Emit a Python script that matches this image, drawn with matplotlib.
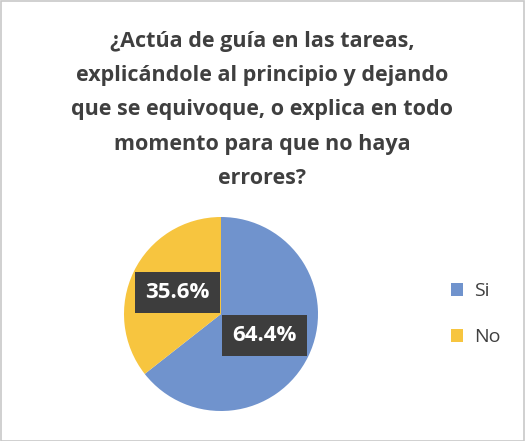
import matplotlib
matplotlib.use("Agg")
import matplotlib.pyplot as plt
from matplotlib.patches import Rectangle

title = "¿Actúa de guía en las tareas,\nexplicándole al principio y dejando\nque se equivoque, o explica en todo\nmomento para que no haya\nerrores?"
categories = ["Si", "No"]
values = [64.4, 35.6]
colors = ["#7093cd", "#f7c53f"]

W, H = 525, 441
fig = plt.figure(figsize=(W / 100, H / 100), dpi=100)
fig.patch.set_facecolor("white")
fig.add_artist(Rectangle((0.5 / W, 0.5 / H), 1 - 1.5 / W, 1 - 1.5 / H, transform=fig.transFigure,
                         fill=False, edgecolor="#c8c8c8", linewidth=1.2))

fig.text(262 / W, 1 - 110 / H, title, ha="center", va="center", fontsize=15.5,
         fontweight="bold", color="#3f3f3f", family="Open Sans", linespacing=1.84)

cx, cy, r = 221, 314, 97
ax = fig.add_axes([(cx - r) / W, (H - cy - r) / H, 2 * r / W, 2 * r / H])
wedges, texts, autotexts = ax.pie(values, colors=colors, startangle=90, counterclock=False,
                                  autopct="%.1f%%", pctdistance=0.5,
                                  wedgeprops=dict(linewidth=0))
for t in autotexts:
    t.set_color("white")
    t.set_fontsize(16)
    t.set_fontweight("bold")
    t.set_family("Open Sans")
    t.set_bbox(dict(boxstyle="square,pad=0.45", facecolor="#3d3d3d", edgecolor="none"))
ax.set_xlim(-1, 1)
ax.set_ylim(-1, 1)
ax.set_aspect("equal")

leg = fig.legend(wedges, categories, loc="center left", bbox_to_anchor=(433 / W, 1 - 314 / H),
                 frameon=False, handlelength=0.65, handleheight=0.65,
                 labelspacing=1.45, handletextpad=0.55, prop={"family": "Open Sans", "size": 14})
for t in leg.get_texts():
    t.set_color("#404040")

fig.savefig("out.png", dpi=100)
